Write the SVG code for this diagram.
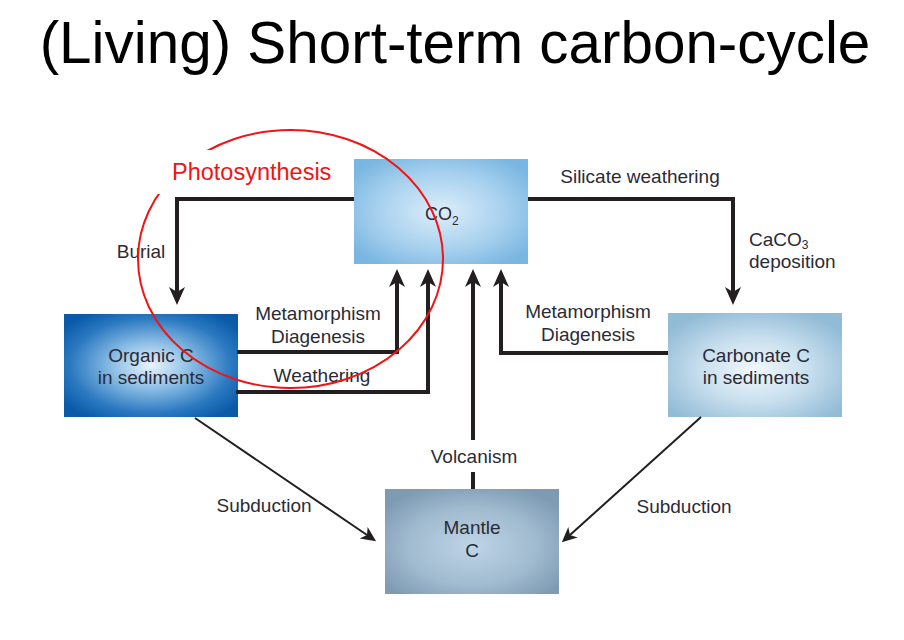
<svg xmlns="http://www.w3.org/2000/svg" width="904" height="640" viewBox="0 0 904 640">
<defs>
<style>
.t{font-family:"Liberation Sans",Arial,sans-serif;font-size:19px;fill:#2b2b36}
.c{text-anchor:middle}
.title{font-family:"Liberation Sans",Arial,sans-serif;font-size:58.4px;fill:#000;text-anchor:middle}
.thick{fill:none;stroke:#231f20;stroke-width:4}
.thin{fill:none;stroke:#231f20;stroke-width:2}
.red{font-family:"Liberation Sans",Arial,sans-serif;font-size:23.5px;fill:#f01414}
</style>
<marker id="big" markerUnits="userSpaceOnUse" viewBox="0 -10 20 20" refX="5" refY="0" markerWidth="20" markerHeight="20" orient="auto">
<path d="M0,-8 L18,0 L0,8 L5,0 Z" fill="#231f20"/>
</marker>
<marker id="small" markerUnits="userSpaceOnUse" viewBox="0 -8 18 16" refX="4" refY="0" markerWidth="18" markerHeight="16" orient="auto">
<path d="M0,-7 L15,0 L0,7 L4,0 Z" fill="#231f20"/>
</marker>
<radialGradient id="gOrg" cx="0.5" cy="0.5" r="0.62">
<stop offset="0" stop-color="#e9f4fc"/>
<stop offset="0.35" stop-color="#8fc0e6"/>
<stop offset="0.75" stop-color="#2a78c0"/>
<stop offset="1" stop-color="#0a5aa8"/>
</radialGradient>
<radialGradient id="gCO2" cx="0.5" cy="0.5" r="0.62">
<stop offset="0" stop-color="#ddeefa"/>
<stop offset="0.6" stop-color="#a6d0ee"/>
<stop offset="1" stop-color="#79b6e1"/>
</radialGradient>
<radialGradient id="gCarb" cx="0.5" cy="0.55" r="0.62">
<stop offset="0" stop-color="#f2f8fc"/>
<stop offset="0.5" stop-color="#c8dfee"/>
<stop offset="1" stop-color="#92bbd6"/>
</radialGradient>
<radialGradient id="gMan" cx="0.5" cy="0.55" r="0.62">
<stop offset="0" stop-color="#bed5e6"/>
<stop offset="0.6" stop-color="#a0bacf"/>
<stop offset="1" stop-color="#7e9bb3"/>
</radialGradient>
</defs>
<rect width="904" height="640" fill="#fff"/>
<text class="title" x="455" y="63">(Living) Short-term carbon-cycle</text>

<g id="node-co2">
<rect x="354" y="159" width="174" height="105" fill="url(#gCO2)"/>
<text class="t" x="425" y="220" style="font-size:18px">CO<tspan font-size="12" dy="5">2</tspan></text>
</g>
<g id="node-organic">
<rect x="64" y="314" width="174" height="103" fill="url(#gOrg)"/>
<text class="t c" x="151" y="362">Organic C</text>
<text class="t c" x="151" y="384">in sediments</text>
</g>
<g id="node-carbonate">
<rect x="668" y="313" width="174" height="104" fill="url(#gCarb)"/>
<text class="t c" x="756" y="362">Carbonate C</text>
<text class="t c" x="756" y="384">in sediments</text>
</g>
<g id="node-mantle">
<rect x="385" y="489" width="174" height="105" fill="url(#gMan)"/>
<text class="t c" x="472" y="534">Mantle</text>
<text class="t c" x="472" y="557">C</text>
</g>

<g id="connectors">
<path class="thick" d="M354,199 H177 V292" marker-end="url(#big)"/>
<path class="thick" d="M528,199 H733 V292" marker-end="url(#big)"/>
<path class="thick" d="M237,352 H397 V282" marker-end="url(#big)"/>
<path class="thick" d="M236,392 H428 V282" marker-end="url(#big)"/>
<path class="thick" d="M668,353 H501 V282" marker-end="url(#big)"/>
<path class="thick" d="M473,489 V472"/>
<path class="thick" d="M473,440 V282" marker-end="url(#big)"/>
<path class="thin" d="M195,418 L367,535" marker-end="url(#small)"/>
<path class="thin" d="M701,417 L570,535" marker-end="url(#small)"/>
</g>

<g id="labels">
<text class="t c" x="141" y="258">Burial</text>
<text class="t c" x="318" y="320">Metamorphism</text>
<text class="t c" x="318" y="343">Diagenesis</text>
<text class="t c" x="322" y="382">Weathering</text>
<text class="t c" x="640" y="183">Silicate weathering</text>
<text class="t" x="749" y="246">CaCO<tspan font-size="12" dy="3">3</tspan></text>
<text class="t" x="749" y="268">deposition</text>
<text class="t c" x="588" y="318">Metamorphism</text>
<text class="t c" x="588" y="341">Diagenesis</text>
<text class="t c" x="474" y="463">Volcanism</text>
<text class="t c" x="264" y="512">Subduction</text>
<text class="t c" x="684" y="513">Subduction</text>
</g>

<g id="photosynthesis">
<ellipse cx="290.5" cy="259" rx="152.5" ry="129" fill="none" stroke="#f01414" stroke-width="2"/>
<rect x="158" y="150" width="182" height="44" fill="#fff"/>
<text class="red" x="172" y="180">Photosynthesis</text>
</g>
</svg>
